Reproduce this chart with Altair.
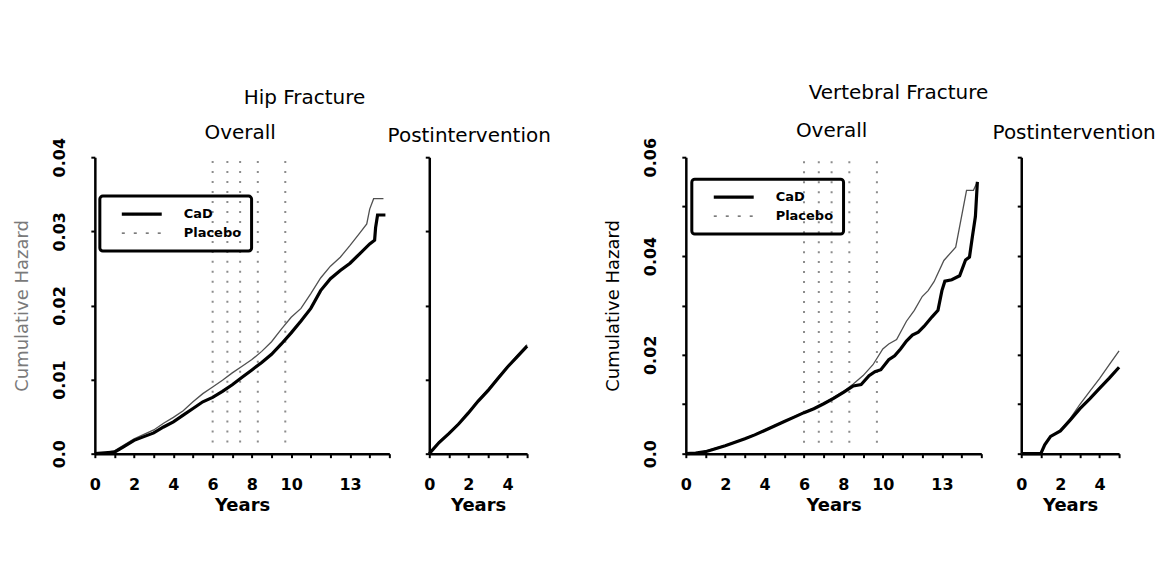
import altair as alt
import pandas as pd

FONT = "DejaVu Sans"

SERIES = ["CaD", "Placebo"]
SERIES_COLORS = ["#000000", "#505050"]
SERIES_WIDTHS = [3.2, 1.3]
LEGEND_DASHES = [[1, 0], [3, 9]]
GROUP_TITLES = ["Hip Fracture", "Vertebral Fracture"]
PANEL_TITLES = ["Overall", "Postintervention"]

# ---- Hip fracture, overall ----
HIP_ALL_T_CAD = [0, 0.5, 1.0, 1.5, 2.0, 2.5, 3.0, 3.5, 4.0, 4.5, 5.0, 5.5, 6.0, 6.5, 7.0, 7.5,
                 8.0, 8.5, 9.0, 9.5, 10.0, 10.5, 11.0, 11.5, 12.0, 12.5, 13.0, 13.5, 14.0,
                 14.25, 14.3, 14.4, 14.8]
HIP_ALL_V_CAD = [0, 0.0001, 0.0002, 0.0010, 0.0018, 0.0023, 0.0028, 0.0036, 0.0043, 0.0052,
                 0.0061, 0.0070, 0.0076, 0.0084, 0.0093, 0.0103, 0.0113, 0.0123, 0.0134, 0.0148,
                 0.0163, 0.0179, 0.0196, 0.0220, 0.0236, 0.0247, 0.0257, 0.0270, 0.0283,
                 0.0288, 0.0305, 0.0322, 0.0322]
HIP_ALL_T_PL = [0, 0.5, 1.0, 1.5, 2.0, 2.5, 3.0, 3.5, 4.0, 4.5, 5.0, 5.5, 6.0, 6.5, 7.0, 7.5,
                8.0, 8.5, 9.0, 9.5, 10.0, 10.5, 11.0, 11.5, 12.0, 12.5, 13.0, 13.5,
                13.85, 14.0, 14.2, 14.7]
HIP_ALL_V_PL = [0, 0.0001, 0.0004, 0.0012, 0.0020, 0.0026, 0.0032, 0.0041, 0.0049, 0.0058,
                0.0070, 0.0081, 0.0090, 0.0099, 0.0109, 0.0118, 0.0127, 0.0138, 0.0151, 0.0168,
                0.0184, 0.0196, 0.0216, 0.0237, 0.0253, 0.0265, 0.0281, 0.0298,
                0.0310, 0.0330, 0.0344, 0.0344]

# ---- Hip fracture, postintervention ----
HIP_POST_T = [0, 0.5, 1.0, 1.5, 2.0, 2.5, 3.0, 3.5, 4.0, 4.5, 5.0]
HIP_POST_V_CAD = [0, 0.0015, 0.0027, 0.0040, 0.0055, 0.0071, 0.0085, 0.0101, 0.0117, 0.0131, 0.0145]
HIP_POST_V_PL = [0, 0.0016, 0.0028, 0.0041, 0.0056, 0.0072, 0.0087, 0.0103, 0.0118, 0.0133, 0.0147]

# ---- Vertebral fracture, overall ----
VERT_ALL_T_CAD = [0, 0.5, 1, 1.5, 2, 2.5, 3, 3.5, 4, 4.5, 5, 5.5, 6, 6.5, 7, 7.5, 8, 8.5,
                  8.9, 9.3, 9.6, 9.9, 10.3, 10.6, 10.9, 11.2, 11.5, 11.8, 12.1, 12.5, 12.8,
                  13.0, 13.15, 13.5, 13.9, 14.2, 14.4, 14.55, 14.7, 14.8]
VERT_ALL_V_CAD = [0, 0.0001, 0.0004, 0.0010, 0.0016, 0.0023, 0.0030, 0.0038, 0.0047, 0.0056,
                  0.0065, 0.0074, 0.0083, 0.0091, 0.0101, 0.0112, 0.0124, 0.0137,
                  0.0140, 0.0158, 0.0166, 0.0170, 0.0190, 0.0198, 0.0212, 0.0228, 0.0240, 0.0246,
                  0.0258, 0.0277, 0.0290, 0.0330, 0.0349, 0.0352, 0.0360, 0.0392, 0.0398,
                  0.0440, 0.0480, 0.0550]
VERT_ALL_T_PL = [0, 0.5, 1, 1.5, 2, 2.5, 3, 3.5, 4, 4.5, 5, 5.5, 6, 6.5, 7, 7.5, 8, 8.5,
                 9.0, 9.5, 10.0, 10.3, 10.7, 11.2, 11.6, 12.0, 12.3, 12.6,
                 13.1, 13.7, 14.25, 14.6, 14.8]
VERT_ALL_V_PL = [0, 0.0001, 0.0005, 0.0011, 0.0017, 0.0024, 0.0031, 0.0039, 0.0048, 0.0057,
                 0.0066, 0.0075, 0.0084, 0.0092, 0.0102, 0.0114, 0.0126, 0.0141,
                 0.0158, 0.0180, 0.0212, 0.0222, 0.0231, 0.0268, 0.0290, 0.0318, 0.0330, 0.0348,
                 0.0391, 0.0418, 0.0533, 0.0533, 0.0550]

# ---- Vertebral fracture, postintervention ----
VERT_POST_T = [0, 0.5, 1.0, 1.2, 1.5, 2.0, 2.5, 3.0, 3.5, 4.0, 4.5, 5.0]
VERT_POST_V_CAD = [0, 0, 0, 0.0018, 0.0035, 0.0046, 0.0068, 0.0091, 0.0111, 0.0132, 0.0153, 0.0175]
VERT_POST_V_PL = [0, 0, 0, 0.0018, 0.0035, 0.0047, 0.0071, 0.0100, 0.0126, 0.0152, 0.0180, 0.0208]

# intervention-end reference lines (years)
INTERVENTION_YEARS = [6.0, 6.75, 7.4, 8.3, 9.7]
HIP_RULE_RANGE = [0.0015, 0.04]
VERT_RULE_RANGE = [0.0022, 0.06]

# axes
X_TICKS_ALL = [0, 1, 2, 3, 4, 5, 6, 7, 8, 9, 10, 11, 12, 13, 14, 15]
X_LABELS_ALL = ["0", "", "2", "", "4", "", "6", "", "8", "", "10", "", "", "13", "", ""]
X_TICKS_POST = [0, 1, 2, 3, 4, 5]
X_LABELS_POST = ["0", "", "2", "", "4", ""]
HIP_Y_TICKS = [0, 0.01, 0.02, 0.03, 0.04]
HIP_Y_LABELS = ["0.0", "0.01", "0.02", "0.03", "0.04"]
VERT_Y_TICKS = [0, 0.01, 0.02, 0.03, 0.04, 0.05, 0.06]
VERT_Y_LABELS = ["0.0", "", "0.02", "", "0.04", "", "0.06"]


def label_expr(values, labels):
    expr = "''"
    for v, l in reversed(list(zip(values, labels))):
        expr = f"datum.value == {v} ? '{l}' : ({expr})"
    return expr


def frame(t_cad, v_cad, t_pl, v_pl):
    rows = [{"t": t, "v": v, "series": SERIES[0]} for t, v in zip(t_cad, v_cad)]
    rows += [{"t": t, "v": v, "series": SERIES[1]} for t, v in zip(t_pl, v_pl)]
    return pd.DataFrame(rows)


def rules_frame(rng):
    return pd.DataFrame({"t": INTERVENTION_YEARS,
                         "y": [rng[0]] * len(INTERVENTION_YEARS),
                         "y2": [rng[1]] * len(INTERVENTION_YEARS)})


def legend_for(lx, ly):
    return alt.Legend(
        orient="none", legendX=lx, legendY=ly, title=None,
        symbolType="stroke", symbolSize=1600, symbolStrokeWidth=3.5,
        symbolOffset=10, clipHeight=16,
        labelFont=FONT, labelFontSize=13, labelFontWeight="bold", labelColor="black",
        labelOffset=20,
        strokeColor="black", cornerRadius=3, padding=10, rowPadding=3,
    )


def panel(df, rules, width, x_max, x_ticks, x_labels, y_max, y_ticks, y_labels,
          title, title_offset, title_dx, overall, y_title_color, legend_xy):
    x_axis = alt.Axis(values=x_ticks, labelExpr=label_expr(x_ticks, x_labels),
                      title="Years", labelFlush=False, labelOverlap=False,
                      labelPadding=19, titlePadding=4, titleFontSize=18,
                      titleFontWeight="bold")
    if overall:
        y_axis = alt.Axis(values=y_ticks, labelExpr=label_expr(y_ticks, y_labels),
                          title="Cumulative Hazard", labelAngle=270, labelAlign="center",
                          labelBaseline="bottom", labelPadding=23, labelFlush=False,
                          labelOverlap=False, titlePadding=20, titleFontSize=18,
                          titleFontWeight="normal", titleColor=y_title_color)
    else:
        y_axis = alt.Axis(values=y_ticks, labels=False, title=None)

    xs = alt.Scale(domain=[0, x_max], nice=False)
    ys = alt.Scale(domain=[0, y_max], nice=False)
    x = alt.X("t:Q", scale=xs, axis=x_axis)
    y = alt.Y("v:Q", scale=ys, axis=y_axis)
    color_scale = alt.Scale(domain=SERIES, range=SERIES_COLORS)
    leg = legend_for(*legend_xy) if legend_xy is not None else None

    layers = []
    if rules is not None:
        layers.append(
            alt.Chart(rules).mark_rule(color="#8c8c8c", strokeWidth=2, strokeDash=[2, 8])
            .encode(x=alt.X("t:Q", scale=xs, axis=x_axis),
                    y=alt.Y("y:Q", scale=ys, axis=y_axis),
                    y2="y2:Q")
        )
    for s in [SERIES[1], SERIES[0]]:
        layers.append(
            alt.Chart(df).transform_filter(alt.datum.series == s)
            .mark_line(interpolate="linear")
            .encode(
                x=x, y=y,
                color=alt.Color("series:N", scale=color_scale, legend=leg),
                strokeWidth=alt.StrokeWidth("series:N",
                                            scale=alt.Scale(domain=SERIES, range=SERIES_WIDTHS),
                                            legend=None),
            )
        )
    if leg is not None:
        layers.append(
            alt.Chart(df).transform_filter("false").mark_line()
            .encode(
                x=x, y=y,
                color=alt.Color("series:N", scale=color_scale, legend=leg),
                strokeDash=alt.StrokeDash("series:N",
                                          scale=alt.Scale(domain=SERIES, range=LEGEND_DASHES),
                                          legend=leg),
            )
        )
    return alt.layer(*layers).properties(
        width=width, height=297,
        title=alt.TitleParams(title, offset=title_offset, dx=title_dx, fontSize=20,
                              fontWeight="normal", font=FONT),
    )


p1 = panel(frame(HIP_ALL_T_CAD, HIP_ALL_V_CAD, HIP_ALL_T_PL, HIP_ALL_V_PL),
           rules_frame(HIP_RULE_RANGE), 295, 15, X_TICKS_ALL, X_LABELS_ALL,
           0.04, HIP_Y_TICKS, HIP_Y_LABELS, PANEL_TITLES[0], -6, -2, True, "#7a7a7a",
           (5, 39))
p2 = panel(frame(HIP_POST_T, HIP_POST_V_CAD, HIP_POST_T, HIP_POST_V_PL),
           None, 98, 5, X_TICKS_POST, X_LABELS_POST,
           0.04, HIP_Y_TICKS, HIP_Y_LABELS, PANEL_TITLES[1], 10, -9, False, "black",
           None)
p3 = panel(frame(VERT_ALL_T_CAD, VERT_ALL_V_CAD, VERT_ALL_T_PL, VERT_ALL_V_PL),
           rules_frame(VERT_RULE_RANGE), 296, 15, X_TICKS_ALL, X_LABELS_ALL,
           0.06, VERT_Y_TICKS, VERT_Y_LABELS, PANEL_TITLES[0], -4, -2, True, "black",
           (6, 22))
p4 = panel(frame(VERT_POST_T, VERT_POST_V_CAD, VERT_POST_T, VERT_POST_V_PL),
           None, 98, 5, X_TICKS_POST, X_LABELS_POST,
           0.06, VERT_Y_TICKS, VERT_Y_LABELS, PANEL_TITLES[1], 13, 4, False, "black",
           None)

# spacer between the two figures; it also carries the two group headings
group_df = pd.DataFrame({"label": GROUP_TITLES})
spacer = alt.layer(
    alt.Chart(pd.DataFrame({"t": [0]})).mark_point(opacity=0)
    .encode(x=alt.X("t:Q", axis=None), y=alt.Y("t:Q", axis=None)),
    alt.Chart(group_df.iloc[[0]]).mark_text(font=FONT, fontSize=20, align="center",
                                            baseline="middle", color="black")
    .encode(text="label:N", x=alt.value(-263), y=alt.value(-59)),
    alt.Chart(group_df.iloc[[1]]).mark_text(font=FONT, fontSize=20, align="center",
                                            baseline="middle", color="black")
    .encode(text="label:N", x=alt.value(332), y=alt.value(-64)),
).properties(width=79, height=297)

chart = (
    alt.hconcat(p1, p2, spacer, p3, p4, spacing=40, bounds="flush")
    .resolve_scale(color="independent", strokeWidth="independent", strokeDash="independent")
    .properties(padding={"left": 5, "top": 74, "right": 5, "bottom": 5})
    .configure(font=FONT)
    .configure_view(stroke="transparent")
    .configure_axis(domainColor="black", domainWidth=2.5, tickColor="black", tickWidth=2,
                    tickSize=4, grid=False, labelFont=FONT, labelFontSize=16,
                    labelFontWeight="bold", labelColor="black", titleFont=FONT,
                    titleColor="black")
    .configure_legend(strokeWidth=3)
    .configure_title(font=FONT, color="black", fontWeight="normal")
)

chart.save("out.html", embed_options={"renderer": "svg", "actions": False})
